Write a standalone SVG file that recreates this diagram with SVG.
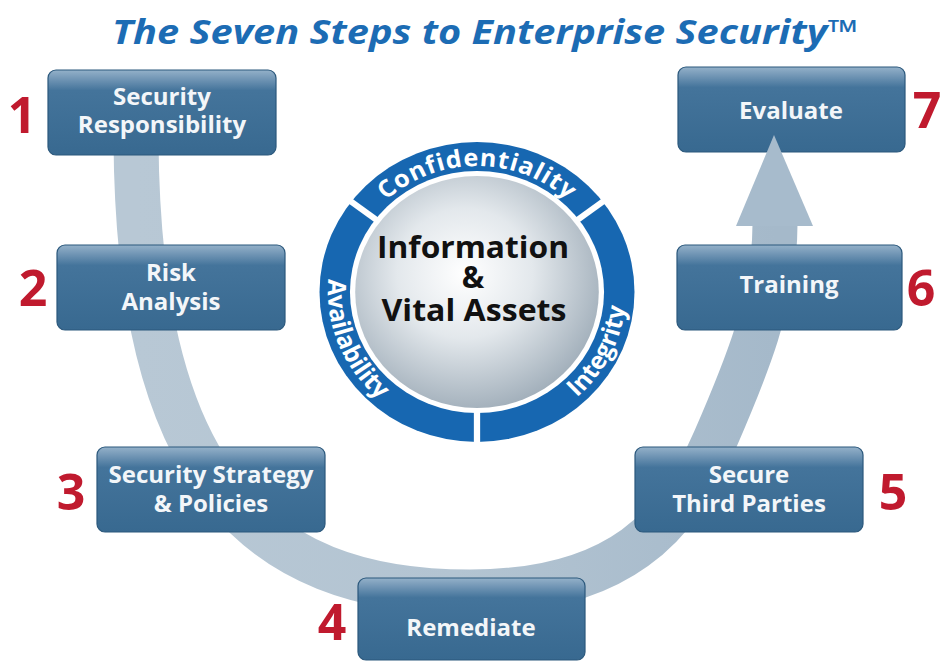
<svg xmlns="http://www.w3.org/2000/svg" xmlns:xlink="http://www.w3.org/1999/xlink" width="946" height="661" viewBox="0 0 946 661">
<defs>
<linearGradient id="boxg" x1="0" y1="0" x2="0" y2="1">
<stop offset="0" stop-color="#94b1c9"/>
<stop offset="0.1" stop-color="#7397b6"/>
<stop offset="0.24" stop-color="#44749b"/>
<stop offset="1" stop-color="#386990"/>
</linearGradient>
<linearGradient id="bandg" x1="0" y1="0" x2="1" y2="0">
<stop offset="0" stop-color="#b8c8d5"/>
<stop offset="0.5" stop-color="#b3c4d2"/>
<stop offset="1" stop-color="#a5b9ca"/>
</linearGradient>
<radialGradient id="silver" cx="0.45" cy="0.42" r="0.62">
<stop offset="0" stop-color="#ffffff"/>
<stop offset="0.45" stop-color="#e3e8ec"/>
<stop offset="1" stop-color="#9dabb7"/>
</radialGradient>
<path id="arcTop" d="M -114.2 -53.2 A 126 126 0 0 1 114.2 -53.2"/>
<path id="arcLeft" d="M -108.8 -91.3 A 142 142 0 0 0 -14.8 141.2"/>
<path id="arcRight" d="M 5 141.9 A 142 142 0 0 0 117.7 -79.4"/>
</defs>
<style>
.box{fill:url(#boxg);stroke:#2b587c;stroke-width:1.2}
.bt{font-family:"Open Sans","Noto Sans","Liberation Sans",sans-serif;font-weight:700;font-size:24px;fill:#f3f6f9;text-anchor:middle}
.num{font-family:"Open Sans","Noto Sans","Liberation Sans",sans-serif;font-weight:700;font-size:50px;fill:#c01a2e;text-anchor:middle}
.ring{font-family:"Open Sans","Noto Sans","Liberation Sans",sans-serif;font-weight:700;font-size:24px;fill:#ffffff}
.core{font-family:"Open Sans","Noto Sans","Liberation Sans",sans-serif;font-weight:700;font-size:30px;fill:#111111;text-anchor:middle}
</style>
<rect width="946" height="661" fill="#ffffff"/>
<text x="112" y="44" font-family="'Open Sans','Noto Sans','Liberation Sans',sans-serif" font-weight="700" font-style="italic" font-size="34" fill="#1c6cb4" textLength="746" lengthAdjust="spacingAndGlyphs">The Seven Steps to Enterprise Security™</text>

<g id="center">
<g transform="translate(477,292) scale(1.05,1)">
<circle r="150" fill="#1767b1"/>
<g stroke="#ffffff" stroke-width="6">
<line x1="0" y1="115" x2="0" y2="155"/>
<line x1="91.8" y1="-69.2" x2="123.8" y2="-93.3"/>
<line x1="-91.8" y1="-69.2" x2="-123.8" y2="-93.3"/>
</g>
<circle r="121" fill="#ffffff"/>
<circle r="116" fill="url(#silver)"/>
<text class="ring" letter-spacing="0.8"><textPath xlink:href="#arcTop" href="#arcTop" startOffset="50%" text-anchor="middle">Confidentiality</textPath></text>
<text class="ring"><textPath xlink:href="#arcLeft" href="#arcLeft" startOffset="50%" text-anchor="middle">Availability</textPath></text>
<text class="ring"><textPath xlink:href="#arcRight" href="#arcRight" startOffset="50%" text-anchor="middle">Integrity</textPath></text>
</g>
<text class="core" x="473" y="258" textLength="192" lengthAdjust="spacingAndGlyphs">Information</text>
<text class="core" x="473" y="288">&amp;</text>
<text class="core" x="474" y="321" textLength="185" lengthAdjust="spacingAndGlyphs">Vital Assets</text>
</g>

<g id="step7">
<rect class="box" x="678" y="67" width="227" height="85" rx="8"/>
<text class="bt" x="791" y="119">Evaluate</text>
<text class="num" x="927" y="128">7</text>
</g>

<g id="connectors">
<path d="M 136 140 C 138 470, 250 592, 470 592 C 620 592, 678 525, 715 440 C 745 371, 775 300, 775 224" fill="none" stroke="url(#bandg)" stroke-width="45"/>
<polygon points="774,135 736,226 813,226" fill="#a7bbcc"/>
</g>

<g id="step1">
<rect class="box" x="48" y="70" width="228" height="85" rx="8"/>
<text class="bt" x="162" y="105">Security</text>
<text class="bt" x="162" y="133">Responsibility</text>
<text class="num" x="22" y="133">1</text>
</g>

<g id="step2">
<rect class="box" x="57" y="245" width="228" height="85" rx="8"/>
<text class="bt" x="171" y="281">Risk</text>
<text class="bt" x="171" y="310">Analysis</text>
<text class="num" x="33" y="306">2</text>
</g>

<g id="step3">
<rect class="box" x="97" y="447" width="228" height="85" rx="8"/>
<text class="bt" x="211" y="483">Security Strategy</text>
<text class="bt" x="211" y="512">&amp; Policies</text>
<text class="num" x="71" y="510">3</text>
</g>

<g id="step4">
<rect class="box" x="358" y="578" width="227" height="82" rx="8"/>
<text class="bt" x="471" y="636">Remediate</text>
<text class="num" x="332" y="640">4</text>
</g>

<g id="step5">
<rect class="box" x="635" y="447" width="228" height="85" rx="8"/>
<text class="bt" x="749" y="483">Secure</text>
<text class="bt" x="749" y="512">Third Parties</text>
<text class="num" x="893" y="510">5</text>
</g>

<g id="step6">
<rect class="box" x="677" y="245" width="225" height="85" rx="8"/>
<text class="bt" x="789" y="293">Training</text>
<text class="num" x="921" y="306">6</text>
</g>
</svg>
